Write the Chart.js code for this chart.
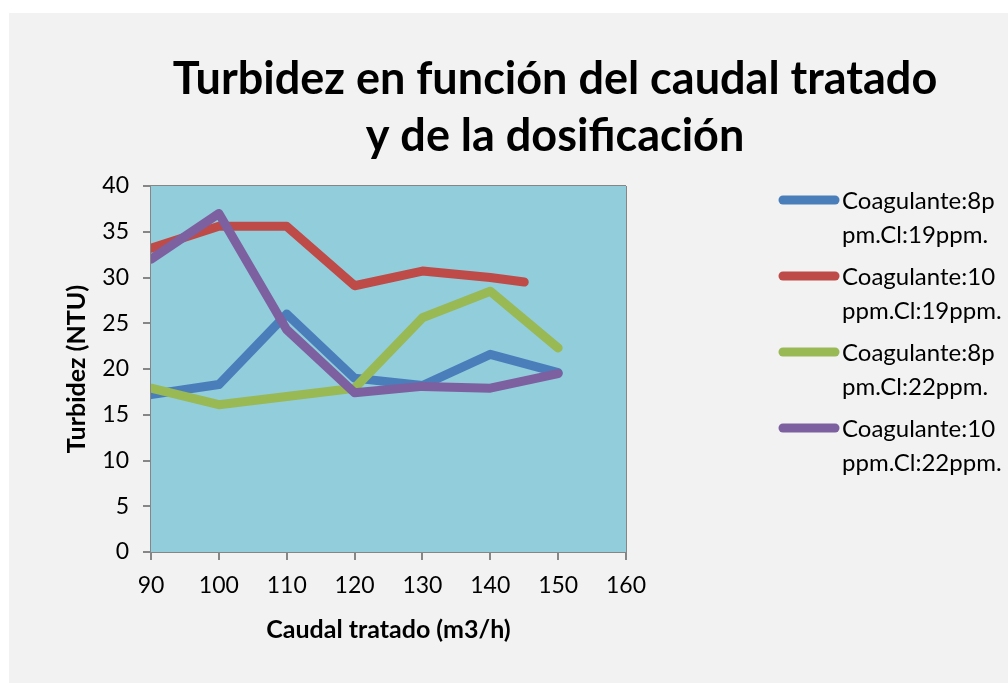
<!DOCTYPE html>
<html>
<head>
<meta charset="utf-8">
<script src="https://cdn.jsdelivr.net/npm/chart.js@4/dist/chart.umd.min.js"></script>
<style>
  html, body { margin: 0; padding: 0; background: #fff; overflow: hidden; }
  #wrap { position: absolute; left: 9px; top: 13px; width: 999px; height: 670px; background: #f2f2f2; }
  canvas { display: block; }
</style>
</head>
<body>
<div id="wrap"><canvas id="turbChart" width="999" height="670"></canvas></div>
<script>
const caudal = [90, 100, 110, 120, 130, 140, 150];
const caudalRojo = [90, 100, 110, 120, 130, 140, 145];
const coag8cl19 = [17.2, 18.3, 26.0, 19.0, 18.2, 21.6, 19.6];
const coag10cl19 = [33.2, 35.6, 35.6, 29.1, 30.7, 30.0, 29.5];
const coag8cl22 = [17.9, 16.1, 17.0, 17.9, 25.6, 28.5, 22.3];
const coag10cl22 = [32.0, 37.0, 24.3, 17.4, 18.1, 17.9, 19.5];

const seriesNames = ['Coagulante:8ppm.Cl:19ppm.', 'Coagulante:10ppm.Cl:19ppm.', 'Coagulante:8ppm.Cl:22ppm.', 'Coagulante:10ppm.Cl:22ppm.'];
const legendLines = [
  ['Coagulante:8p', 'pm.Cl:19ppm.'],
  ['Coagulante:10', 'ppm.Cl:19ppm.'],
  ['Coagulante:8p', 'pm.Cl:22ppm.'],
  ['Coagulante:10', 'ppm.Cl:22ppm.']
];
const colors = ['#4a7ebb', '#be4b48', '#98b954', '#7d60a0'];
const titleLines = ['Turbidez en función del caudal tratado', 'y de la dosificación'];

const toPoints = (xs, ys) => ys.map((y, i) => ({ x: xs[i], y: y }));

const font = 'Lato, "Open Sans", sans-serif';
const gridColor = '#868686';

// plot background + custom title / legend (Excel style)
const decor = {
  id: 'decor',
  beforeDatasetsDraw(chart) {
    const { ctx, chartArea: a } = chart;
    ctx.save();
    ctx.fillStyle = '#92cddc';
    ctx.fillRect(a.left, a.top, a.right - a.left, a.bottom - a.top);
    ctx.restore();
  },
  afterDraw(chart) {
    const ctx = chart.ctx;
    ctx.save();
    ctx.fillStyle = '#000';
    ctx.textAlign = 'center';
    ctx.textBaseline = 'alphabetic';
    ctx.font = 'bold 45px ' + font;
    ctx.fillText(titleLines[0], 546, 81);
    ctx.fillText(titleLines[1], 546, 138);

    ctx.textAlign = 'left';
    ctx.font = '24px ' + font;
    legendLines.forEach((lines, i) => {
      const y = 187 + i * 76;
      ctx.strokeStyle = colors[i];
      ctx.lineWidth = 9;
      ctx.lineCap = 'round';
      ctx.beginPath();
      ctx.moveTo(774, y);
      ctx.lineTo(826, y);
      ctx.stroke();
      ctx.fillText(lines[0], 833, y + 9);
      ctx.fillText(lines[1], 833, y + 43);
    });
    ctx.restore();
  }
};

const ctx = document.getElementById('turbChart').getContext('2d');
const turbChart = new Chart(ctx, {
  type: 'line',
  data: {
    datasets: [
      { label: seriesNames[0], data: toPoints(caudal, coag8cl19), borderColor: colors[0], order: 4 },
      { label: seriesNames[1], data: toPoints(caudalRojo, coag10cl19), borderColor: colors[1], order: 3 },
      { label: seriesNames[2], data: toPoints(caudal, coag8cl22), borderColor: colors[2], order: 2 },
      { label: seriesNames[3], data: toPoints(caudal, coag10cl22), borderColor: colors[3], order: 1 }
    ]
  },
  options: {
    responsive: false,
    animation: false,
    layout: { padding: { top: 173, right: 382, left: 52, bottom: 20 } },
    elements: {
      line: { borderWidth: 9, tension: 0, borderCapStyle: 'round', borderJoinStyle: 'round', fill: false },
      point: { radius: 0, hoverRadius: 0 }
    },
    scales: {
      x: {
        type: 'linear',
        min: 90,
        max: 160,
        afterFit: (s) => { s.height = 111; },
        ticks: { stepSize: 10, color: '#000', padding: 12, font: { family: font, size: 23 } },
        grid: { color: gridColor, lineWidth: 2, tickLength: 8 },
        border: { color: gridColor, width: 2 },
        title: { display: true, text: 'Caudal tratado (m3/h)', color: '#000', padding: { top: 4, bottom: 18 }, font: { family: font, size: 25, weight: 'bold' } }
      },
      y: {
        min: 0,
        max: 40,
        afterFit: (s) => { s.width = 90; },
        ticks: { stepSize: 5, color: '#000', padding: 14, font: { family: font, size: 23 } },
        grid: { color: gridColor, lineWidth: 2, tickLength: 8 },
        border: { color: gridColor, width: 2 },
        title: { display: true, text: 'Turbidez (NTU)', color: '#000', padding: { top: 1, bottom: 2 }, font: { family: font, size: 25, weight: 'bold' } }
      }
    },
    plugins: {
      legend: { display: false },
      tooltip: { enabled: false }
    }
  },
  plugins: [decor]
});
</script>
</body>
</html>
